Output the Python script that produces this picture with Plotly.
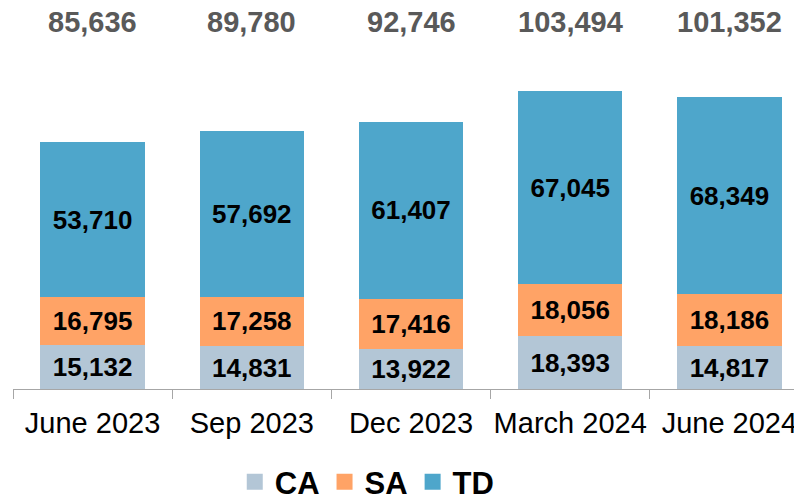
import plotly.graph_objects as go

categories = ["June 2023", "Sep 2023", "Dec 2023", "March 2024", "June 2024"]
ca = [15132, 14831, 13922, 18393, 14817]
sa = [16795, 17258, 17416, 18056, 18186]
td = [53710, 57692, 61407, 67045, 68349]
totals = [85636, 89780, 92746, 103494, 101352]

FONT = "Liberation Sans, Arial, sans-serif"
series = [("CA", ca, "#b3c6d6"), ("SA", sa, "#ffa366"), ("TD", td, "#4ea6cb")]

fig = go.Figure()
for name, vals, col in series:
    fig.add_trace(go.Bar(
        x=categories, y=vals, name=name, showlegend=False,
        marker=dict(color=col, line=dict(width=0)),
        text=[f"{v:,}" for v in vals],
        textposition="inside", insidetextanchor="middle",
        textfont=dict(family=FONT, size=26, color="#000000", weight="bold"),
        constraintext="none",
        width=0.655,
    ))
# legend entries with larger square swatches
for name, vals, col in series:
    fig.add_trace(go.Scatter(
        x=[None], y=[None], mode="markers", name=name,
        marker=dict(symbol="square", size=16, color=col),
    ))

for c, t in zip(categories, totals):
    fig.add_annotation(x=c, y=1, xref="x", yref="paper", yshift=38,
                       text=f"<b>{t:,}</b>", showarrow=False, yanchor="middle",
                       font=dict(family=FONT, size=29, color="#595959"))

fig.update_layout(
    barmode="stack",
    width=802, height=496,
    margin=dict(l=5, r=8, t=52, b=115, autoexpand=False),
    plot_bgcolor="white", paper_bgcolor="white",
    bargap=0.345,
    uniformtext=dict(minsize=26, mode="show"),
    legend=dict(orientation="h", x=0.449, xanchor="center", y=-0.283, yanchor="middle",
                font=dict(family=FONT, size=31, color="#000000", weight="bold"),
                itemwidth=30, traceorder="normal", itemclick=False),
    xaxis=dict(range=[-0.5, 4.456], showline=True, linecolor="#a6a6a6", linewidth=1,
               ticks="outside", tickson="boundaries", ticklen=9, tickcolor="#a6a6a6",
               tickangle=0,
               tickfont=dict(family=FONT, size=29, color="#000000"), showgrid=False,
               automargin=False, ticklabelstandoff=8, fixedrange=True),
    yaxis=dict(range=[0, 114270], visible=False, showgrid=False, automargin=False,
               fixedrange=True),
)

fig.write_html("out.html", config={"displayModeBar": False})
